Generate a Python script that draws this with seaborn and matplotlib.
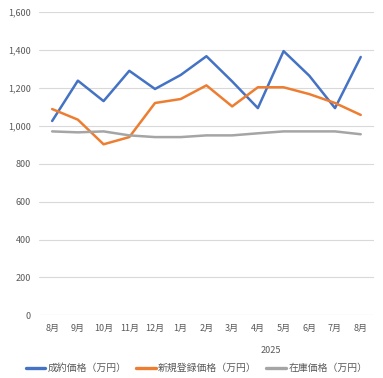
import matplotlib
matplotlib.use('Agg')
import matplotlib.pyplot as plt
import seaborn as sns
import pandas as pd

months = ['8月', '9月', '10月', '11月', '12月', '1月', '2月', '3月', '4月', '5月', '6月', '7月', '8月']
year_label = '2025'
year_start = 5  # 1月 index

contract_price = [1026, 1239, 1131, 1291, 1195, 1269, 1368, 1235, 1094, 1395, 1265, 1094, 1364]
new_listing_price = [1089, 1033, 903, 941, 1121, 1142, 1214, 1103, 1204, 1204, 1168, 1121, 1058]
stock_price = [971, 966, 971, 950, 941, 941, 950, 950, 961, 971, 971, 971, 956]

series_names = ['成約価格（万円）', '新規登録価格（万円）', '在庫価格（万円）']
colors = ['#4472C4', '#ED7D31', '#A5A5A5']

rows = []
for name, vals in zip(series_names, [contract_price, new_listing_price, stock_price]):
    for i, v in enumerate(vals):
        rows.append({'idx': i, 'value': v, 'series': name})
df = pd.DataFrame(rows)

sns.set_style('white')
plt.rcParams['font.family'] = ['Noto Sans CJK JP', 'DejaVu Sans']
text_color = '#595959'

fig = plt.figure(figsize=(3.83, 3.78), dpi=100)
ax = fig.add_axes([0.1026, 0.1659, 0.9754 - 0.1026, 0.9675 - 0.1659])

sns.lineplot(data=df, x='idx', y='value', hue='series', palette=colors,
             linewidth=1.8, ax=ax, legend=True)

ax.set_xlim(-0.5, len(months) - 0.5)
ax.set_ylim(0, 1600)
ax.set_yticks(range(0, 1601, 200))
ax.set_yticklabels([f'{v:,}' for v in range(0, 1601, 200)], fontsize=6.5, color=text_color)
ax.set_xticks(range(len(months)))
ax.set_xticklabels(months, fontsize=6.5, color=text_color)
ax.tick_params(axis='both', length=0, pad=6)
ax.set_xlabel('')
ax.set_ylabel('')
ax.grid(axis='y', color='#D9D9D9', linewidth=0.8)
ax.set_axisbelow(True)
for s in ax.spines.values():
    s.set_visible(False)

ax.text((year_start + len(months) - 1) / 2, -0.117, year_label, transform=ax.get_xaxis_transform(),
        ha='center', va='center', fontsize=6.5, color=text_color)

handles, labels = ax.get_legend_handles_labels()
for h in handles:
    h.set_linewidth(2.4)
ax.legend(handles, labels, loc='center', bbox_to_anchor=(0.47, -0.175), ncol=3,
          frameon=False, fontsize=7.1, handlelength=2.0, handletextpad=0.2,
          columnspacing=1.0, labelcolor=text_color)

fig.savefig('out.png', dpi=100)
